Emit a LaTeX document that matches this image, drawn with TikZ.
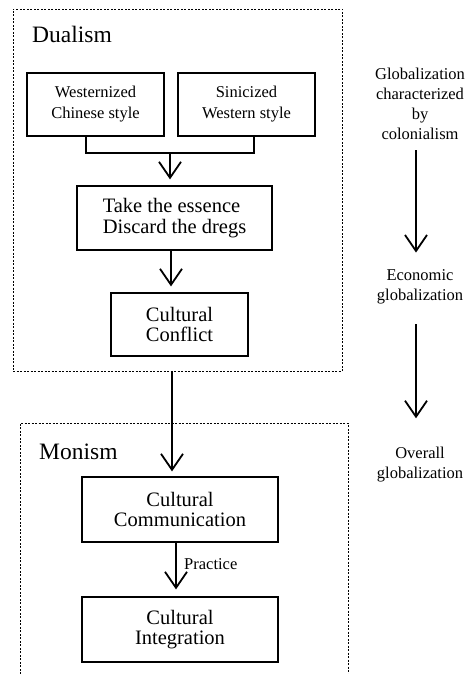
\documentclass[tikz,border=0pt]{standalone}
\usepackage{fontspec}
\setmainfont{Liberation Serif}
\usetikzlibrary{arrows.meta}
\begin{document}
\begin{tikzpicture}[x=1pt,y=-1pt,
  box/.style={draw,line width=1.2pt,inner sep=0pt,align=center,
    font=\fontsize{20.5}{20.5}\selectfont},
  smallbox/.style={draw,line width=1.2pt,inner sep=0pt,align=center,
    font=\fontsize{16.5}{21}\selectfont},
  sidetext/.style={inner sep=0pt,align=center,font=\fontsize{16.5}{20}\selectfont},
  title/.style={inner sep=0pt,anchor=base west,font=\fontsize{23.5}{24}\selectfont},
  dashbox/.style={line width=0.8pt,dash pattern=on 2pt off 1.5pt},
  arr/.style={line width=1.8pt,-{Straight Barb[length=16pt,width=22pt,line width=1.8pt]}}
]
\useasboundingbox (0,0) rectangle (468,674);
% Dualism group
\node[draw,dashbox,minimum width=329pt,minimum height=362pt,inner sep=0pt] (D) at (177.5,190) {};
\node[title] (dl) at (32,43) {Dualism};
\node[smallbox,minimum width=137pt,minimum height=63pt] (W) at (95.5,104.5) {Westernized\\Chinese style};
\node[smallbox,minimum width=137pt,minimum height=63pt] (S) at (246.5,104.5) {Sinicized\\Western style};
\node[box,align=left,minimum width=195pt,minimum height=64pt] (E) at (174.5,218) {Take the essence\\Discard the dregs};
\node[box,minimum width=137pt,minimum height=63pt] (C) at (179.5,324.5) {Cultural\\Conflict};
\coordinate (j) at (170,153);
\draw[line width=1.8pt] ([xshift=-9.5pt]W.south) |- (j) -| ([xshift=7.5pt]S.south);
\draw[arr,shorten >=6pt] (j) -- (j |- E.north);
\draw[arr,shorten >=6pt] ([xshift=-3.5pt]E.south) -- ([xshift=-3.5pt]E.south |- C.north);
% Monism group
\draw[dashbox] (20,674) -- (20,423) -- (348,423) -- (348,674);
\node[title] (ml) at (39,459) {Monism};
\node[box,minimum width=196pt,minimum height=65pt] (M) at (180,509.5) {Cultural\\Communication};
\node[box,minimum width=196pt,minimum height=65pt] (I) at (180,629.5) {Cultural\\Integration};
\coordinate (lx) at (172,0);
\draw[arr,shorten >=5pt] (D.south -| lx) -- (M.north -| lx);
\draw[arr,shorten >=7pt] ([xshift=-4pt]M.south) -- ([xshift=-4pt]M.south |- I.north);
\node[inner sep=0pt,anchor=base west,font=\fontsize{16.5}{20}\selectfont] (p) at (184,569) {Practice};
% Right column
\node[sidetext] (G) at (420,103.4) {Globalization\\characterized\\by\\colonialism};
\node[sidetext] (Ec) at (420,287) {Economic\\globalization};
\node[sidetext] (Ov) at (420,465) {Overall\\globalization};
\coordinate (rx) at (416,0);
\draw[arr,shorten <=11pt,shorten >=17pt] (G.south -| rx) -- (Ec.north -| rx);
\draw[arr,shorten <=20pt,shorten >=29pt] (Ec.south -| rx) -- (Ov.north -| rx);
\end{tikzpicture}
\end{document}
